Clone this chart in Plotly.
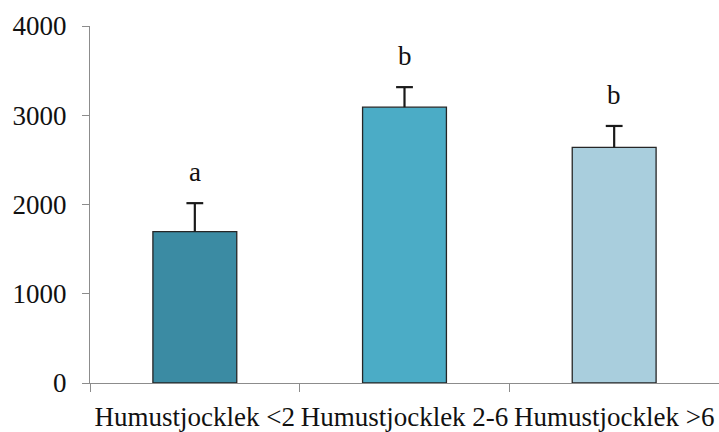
import plotly.graph_objects as go

# Humus thickness classes and measured means with standard errors
categories = ["Humustjocklek <2", "Humustjocklek 2-6", "Humustjocklek >6"]
means = [1695, 3090, 2640]
errors = [320, 225, 240]
letters = ["a", "b", "b"]
bar_colors = ["#3B8BA3", "#4BACC6", "#A9CEDD"]
y_ticks = [0, 1000, 2000, 3000, 4000]

FONT = "Times New Roman, Liberation Serif, DejaVu Serif, serif"
AXIS_GREY = "#8C8C8C"
INK = "#1A1A1A"
SIZE = 27

fig = go.Figure()
fig.add_trace(go.Bar(
    x=categories,
    y=means,
    width=0.4,
    marker=dict(color=bar_colors, line=dict(color="#262626", width=1.3)),
    showlegend=False,
))

# upper-only error whiskers: stem from bar top to mean + error, cap at the end
stem_x, stem_y = [], []
for cat, m, e in zip(categories, means, errors):
    stem_x += [cat, cat, None]
    stem_y += [m, m + e, None]
fig.add_trace(go.Scatter(x=stem_x, y=stem_y, mode="lines",
                         line=dict(color=INK, width=2.2),
                         showlegend=False, hoverinfo="skip"))
fig.add_trace(go.Scatter(x=categories, y=[m + e for m, e in zip(means, errors)],
                         mode="markers",
                         marker=dict(symbol="line-ew", size=12,
                                     line=dict(color=INK, width=2.2)),
                         showlegend=False, hoverinfo="skip"))

# significance letters above each error bar
for cat, m, e, lab in zip(categories, means, errors, letters):
    fig.add_annotation(x=cat, y=m + e, text=lab, showarrow=False,
                       yanchor="middle", yshift=31,
                       font=dict(family=FONT, size=SIZE, color="#111111"))

fig.update_layout(
    width=719, height=432,
    margin=dict(l=90, r=0, t=26, b=49),
    paper_bgcolor="white", plot_bgcolor="white",
    font=dict(family=FONT, size=SIZE, color="#111111"),
    bargap=0.6,
)
fig.update_xaxes(
    showline=True, linecolor=AXIS_GREY, linewidth=1.3,
    ticks="outside", tickson="boundaries", ticklen=8, tickcolor=AXIS_GREY, tickwidth=1,
    showgrid=False, zeroline=False,
    tickfont=dict(family=FONT, size=SIZE, color="#111111"),
    tickangle=0, automargin=False,
    ticklabelstandoff=9,
    range=[-0.5, 2.5],
)
fig.update_yaxes(
    range=[0, 4000], tickvals=y_ticks,
    showline=True, linecolor=AXIS_GREY, linewidth=1.3,
    ticks="outside", ticklen=7, tickcolor=AXIS_GREY, tickwidth=1,
    showgrid=False, zeroline=False,
    tickfont=dict(family=FONT, size=SIZE, color="#111111"),
    automargin=False,
    ticklabelstandoff=10,
)

fig.write_html("out.html")
